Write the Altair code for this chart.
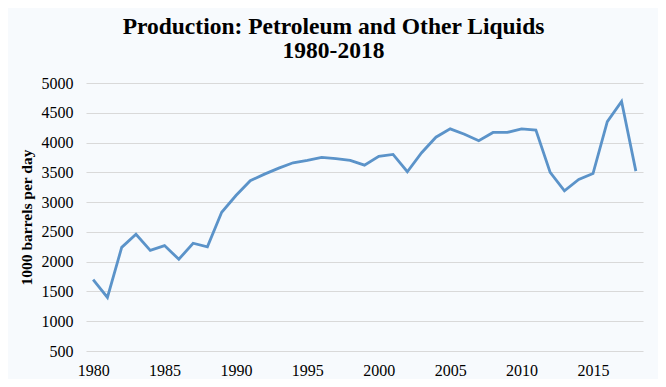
import altair as alt
import pandas as pd

years = list(range(1980, 2019))
production = [1700, 1400, 2240, 2460, 2190, 2270, 2040, 2310, 2250, 2830,
              3110, 3360, 3470, 3570, 3660, 3700, 3750, 3730, 3700, 3620,
              3770, 3800, 3510, 3830, 4090, 4230, 4140, 4030, 4170, 4170,
              4230, 4210, 3500, 3190, 3380, 3480, 4350, 4690, 3520]
y_ticks = [500, 1000, 1500, 2000, 2500, 3000, 3500, 4000, 4500, 5000]
x_ticks = [1980, 1985, 1990, 1995, 2000, 2005, 2010, 2015]

df = pd.DataFrame({"year": years, "value": production})

FONT = "Liberation Serif"

chart = alt.Chart(df).mark_line(color="#5b93c9", strokeWidth=2.8).encode(
    x=alt.X("year:Q",
            scale=alt.Scale(domain=[1979.5, 2018.5], nice=False, zero=False),
            axis=alt.Axis(values=x_ticks, format="d", title=None, grid=False,
                          ticks=False, domain=False, labelPadding=11,
                          labelFontSize=16, labelFont=FONT, labelColor="#000")),
    y=alt.Y("value:Q",
            scale=alt.Scale(domain=[500, 5000], nice=False, zero=False),
            axis=alt.Axis(values=y_ticks, format="d", title="1000 barrels per day",
                          ticks=False, domain=False, gridColor="#d9d9d9",
                          labelPadding=13, labelFontSize=16, labelFont=FONT,
                          labelColor="#000", titleFont=FONT, titleFontSize=15.5,
                          titleFontWeight="bold", titleColor="#000",
                          titlePadding=7)),
).properties(
    width=557, height=268,
    autosize="none",
    padding={"left": 78, "top": 75, "right": 15, "bottom": 28},
    background="#f7fafd",
    title=alt.TitleParams(
        text=["Production: Petroleum and Other Liquids", "1980-2018"],
        font=FONT, fontSize=23.5, fontWeight="bold", color="#000",
        anchor="middle", dx=-31, offset=13, lineHeight=24),
).configure_view(stroke=None)

chart.save("out.html", embed_options={"renderer": "svg", "actions": False})
